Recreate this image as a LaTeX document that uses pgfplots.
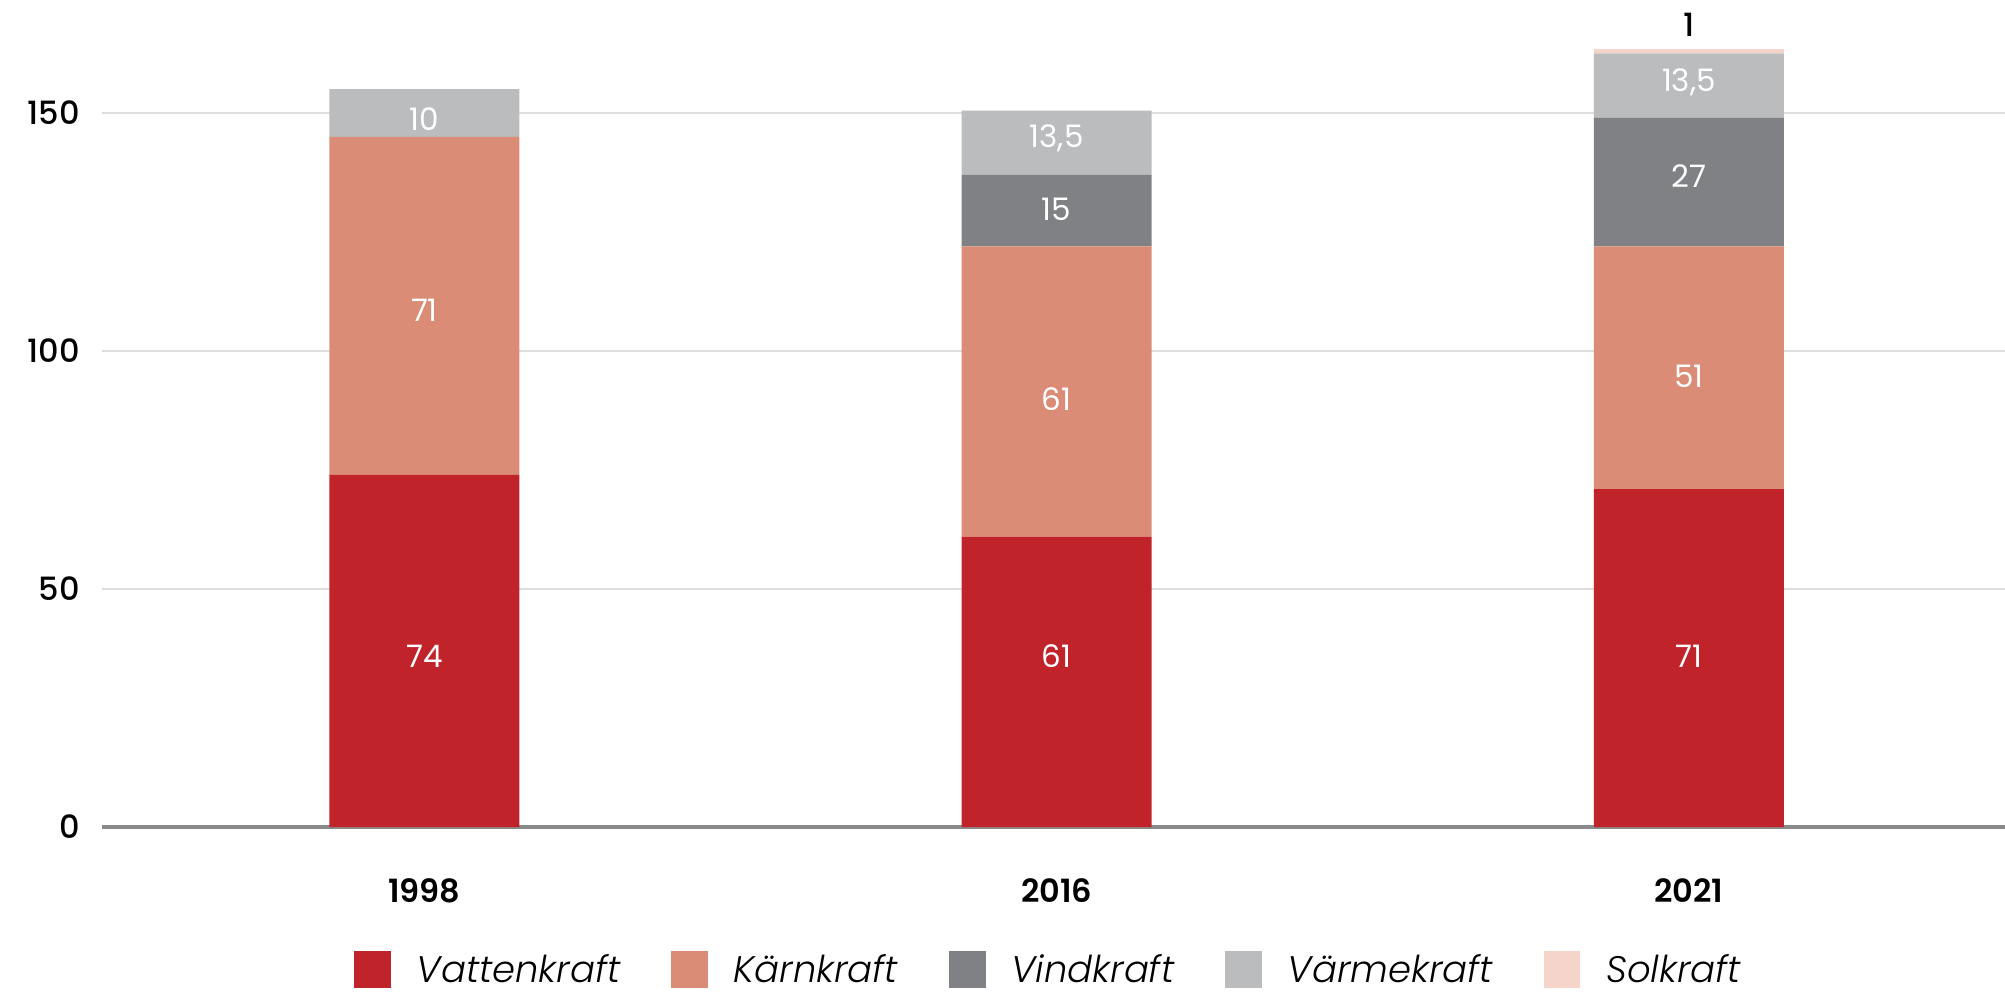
\documentclass[border=0pt]{standalone}
\usepackage{pgfplots}
\pgfplotsset{compat=1.18}
\usepackage{fontspec}
\setmainfont{Poppins}
\newfontfamily\lightf{Poppins Light}[ItalicFont={Poppins Light Italic}]
\newfontfamily\semif{Poppins SemiBold}
\newfontfamily\medf{Poppins Medium}
\definecolor{vatten}{HTML}{C1232A}
\definecolor{karn}{HTML}{DB8C77}
\definecolor{vind}{HTML}{808185}
\definecolor{varme}{HTML}{BBBCBE}
\definecolor{sol}{HTML}{F5D5C9}
\definecolor{gridc}{HTML}{DEDEDE}
\definecolor{basec}{HTML}{8A8A8A}
\pgfplotsset{myleg/.style={legend image code/.code={\fill[##1] (0pt,-9.25pt) rectangle (18.3pt,9.25pt);}},
  samegeom/.style={at={(51pt,82.5pt)}, anchor=south west,
  width=951.5pt, height=404.6pt, scale only axis,
  xmin=-0.51, xmax=2.5, ymin=0, ymax=170, clip=false}}
\begin{document}
\begin{tikzpicture}
\path[use as bounding box] (0,0) rectangle (1002.5pt,496pt);
\begin{axis}[
  samegeom,
  ybar stacked, bar width=95pt,
  axis line style={draw=none},
  major tick length=0pt,
  tick style={draw=none},
  ytick={0,50,100,150},
  xtick={0,1,2},
  xticklabels={1998,2016,2021},
  ymajorgrids,
  grid style={gridc, line width=1.3pt},
  extra y ticks={0},
  extra y tick labels={},
  extra y tick style={grid style={basec, line width=1.7pt}},
  /pgf/number format/assume math mode=true,
  yticklabel style={font=\medf\fontsize{16}{16}\selectfont, anchor=east, inner sep=0pt, xshift=-11pt},
  xticklabel style={font=\semif\fontsize{16}{16}\selectfont, anchor=center, inner sep=0pt, yshift=-32pt},
  legend columns=5,
  legend style={at={(0.5,0)}, anchor=center, yshift=-71.3pt, xshift=-3pt, draw=none, fill=none,
    font=\lightf\itshape\fontsize{18.5}{18.5}\selectfont,
    nodes={inner sep=0pt},
    /tikz/every odd column/.append style={column sep=13pt},
    /tikz/every even column/.append style={column sep=25.5pt}},
  legend cell align=left,
]
\addplot[fill=vatten, draw=none, myleg] coordinates {(0,74) (1,61) (2,71)};
\addplot[fill=karn, draw=none, myleg] coordinates {(0,71) (1,61) (2,51)};
\addplot[fill=vind, draw=none, myleg] coordinates {(0,0) (1,15) (2,27)};
\addplot[fill=varme, draw=none, myleg] coordinates {(0,10) (1,13.5) (2,13.5)};
\addplot[fill=sol, draw=none, myleg] coordinates {(0,0) (1,0) (2,1)};
\legend{Vattenkraft, Kärnkraft, Vindkraft, Värmekraft, Solkraft}
\end{axis}
\begin{axis}[samegeom, hide axis]
\tikzset{lab/.style={font=\fontsize{15.5}{15.5}\selectfont, text=white, inner sep=0pt, anchor=center, yshift=-2.5pt}}
\node[lab] at (axis cs:0,37) {74};
\node[lab] at (axis cs:0,109.5) {71};
\node[lab] at (axis cs:0,149.7) {10};
\node[lab] at (axis cs:1,37) {61};
\node[lab] at (axis cs:1,91) {61};
\node[lab] at (axis cs:1,130.9) {15};
\node[lab] at (axis cs:1,145.7) {13,5};
\node[lab] at (axis cs:2,37) {71};
\node[lab] at (axis cs:2,95.8) {51};
\node[lab] at (axis cs:2,137.7) {27};
\node[lab] at (axis cs:2,157.6) {13,5};
\node[font=\medf\fontsize{16}{16}\selectfont, inner sep=0pt, anchor=center] at (axis cs:2,168.5) {1};
\end{axis}
\end{tikzpicture}
\end{document}
